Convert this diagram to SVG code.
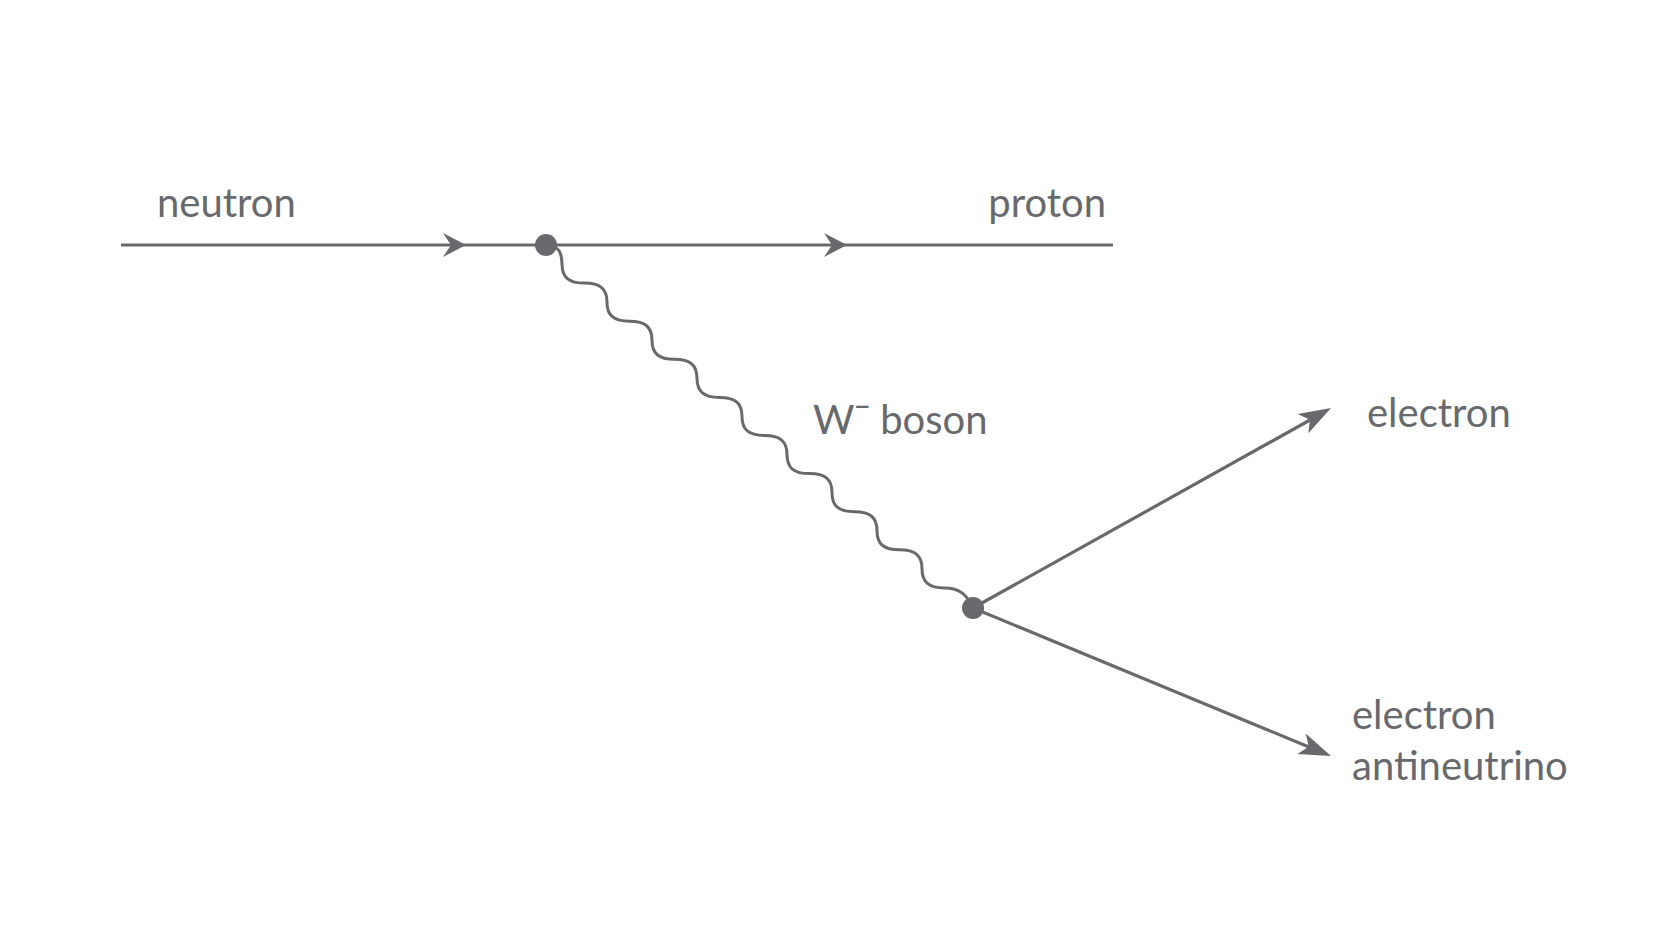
<svg xmlns="http://www.w3.org/2000/svg" width="1672" height="941" viewBox="0 0 1672 941">
<style>
.ln{fill:none;stroke:#68696c;stroke-width:3.2;stroke-linecap:butt}
.wv{fill:none;stroke:#68696c;stroke-width:3}
.ah{fill:#68696c;stroke:none}
.dot{fill:#68696c}
.lbl{font-family:Lato,"Liberation Sans",sans-serif;font-size:40px;fill:#68696c}
</style>
<rect width="1672" height="941" fill="#ffffff"/>
<g id="connectors">
<path id="neutron-line" class="ln" d="M121,245 H546"/>
<path id="proton-line" class="ln" d="M546,245 H1113"/>
<polygon class="ah" points="466,245 443,233 451,245 443,257"/>
<polygon class="ah" points="847,245 824,233 832,245 824,257"/>
<path id="w-boson" class="wv" d="M546,245 C557,245 562,250.8 562,264.05 C562,277.35 568.75,283.1 584.5,283.1 C600.25,283.1 607,288.85 607,302.15 C607,315.45 613.75,321.2 629.5,321.2 C645.25,321.2 652,326.95 652,340.25 C652,353.55 658.75,359.3 674.5,359.3 C690.25,359.3 697,365.05 697,378.35 C697,391.65 703.75,397.4 719.5,397.4 C735.25,397.4 742,403.15 742,416.45 C742,429.75 748.75,435.5 764.5,435.5 C780.25,435.5 787,441.25 787,454.55 C787,467.85 793.75,473.6 809.5,473.6 C825.25,473.6 832,479.35 832,492.65 C832,505.95 838.75,511.7 854.5,511.7 C870.25,511.7 877,517.45 877,530.75 C877,544.05 883.75,549.8 899.5,549.8 C915.25,549.8 922,555.55 922,568.85 C922,582.15 928.75,587.9 944.5,587.9 C960,587.9 967,595 973,608"/>
<path id="electron-line" class="ln" d="M973,608 L1310,420"/>
<polygon class="ah" points="1331,408 1297.6,414 1310,419.7 1308.3,433.2"/>
<path id="antineutrino-line" class="ln" d="M973,608 L1309,747"/>
<polygon class="ah" points="1331,756 1305.7,733.5 1308.8,746.8 1297.3,753.9"/>
</g>
<g id="vertex-1"><circle class="dot" cx="546" cy="245" r="11"/></g>
<g id="vertex-2"><circle class="dot" cx="973" cy="608" r="11"/></g>
<g id="label-neutron"><text class="lbl" x="157" y="217">neutron</text></g>
<g id="label-proton"><text class="lbl" x="1106" y="217" text-anchor="end">proton</text></g>
<g id="label-w"><text class="lbl" x="813" y="434">W<tspan font-family="Noto Sans, sans-serif" font-size="46px">⁻</tspan> boson</text></g>
<g id="label-electron"><text class="lbl" x="1367" y="427">electron</text></g>
<g id="label-antineutrino"><text class="lbl" x="1352" y="729">electron</text><text class="lbl" x="1352" y="780">antineutrino</text></g>
</svg>
